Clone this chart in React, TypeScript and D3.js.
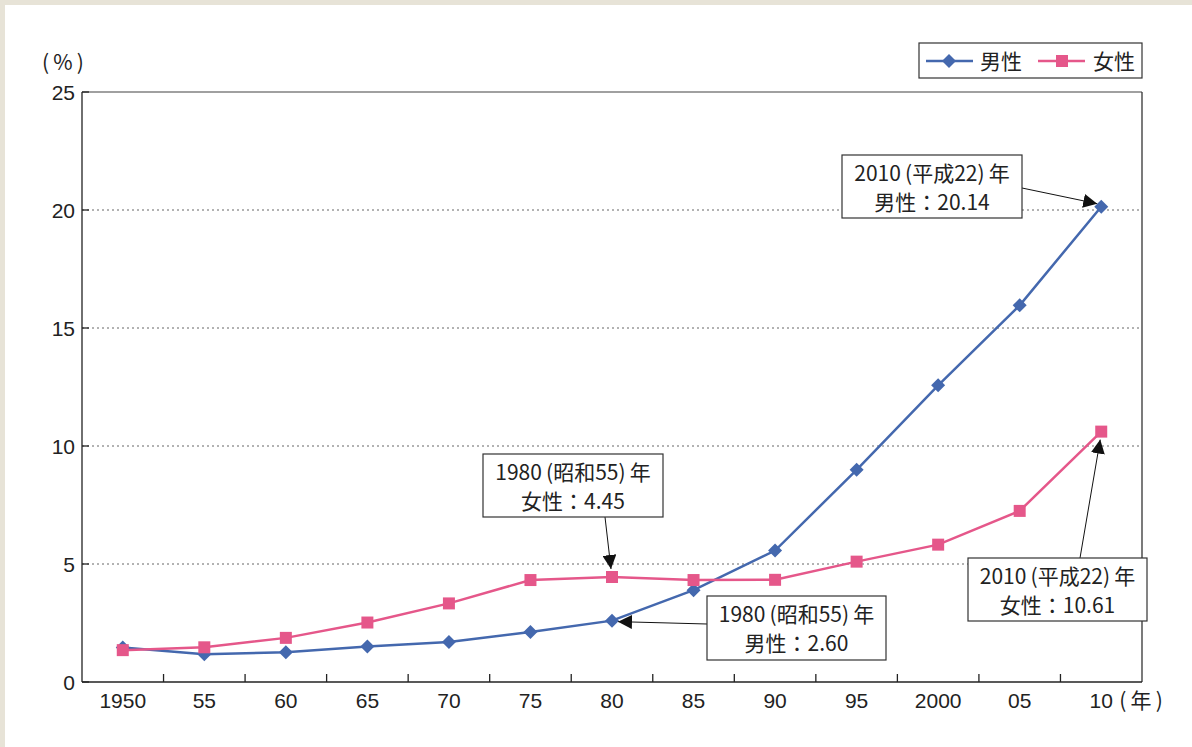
import * as d3 from "d3";

// 生涯未婚率 (%)
const years = ["1950", "55", "60", "65", "70", "75", "80", "85", "90", "95", "2000", "05", "10"];
const male = [1.46, 1.18, 1.26, 1.5, 1.7, 2.12, 2.6, 3.89, 5.57, 8.99, 12.57, 15.96, 20.14];
const female = [1.35, 1.47, 1.87, 2.52, 3.33, 4.32, 4.45, 4.32, 4.33, 5.1, 5.82, 7.25, 10.61];
const yTicks = [0, 5, 10, 15, 20, 25];

const W = 1192;
const H = 747;
const margin = { top: 92, right: 50, bottom: 65, left: 82 };

const BLUE = "#4468ae";
const PINK = "#e5578a";
const FONT = "'Liberation Sans', 'Noto Sans CJK JP', sans-serif";
const JFONT = "'Noto Sans CJK JP', 'Liberation Sans', sans-serif";
const HS = "\u2009";

export default function App() {
  const x = d3
    .scaleBand<string>()
    .domain(years)
    .range([margin.left, W - margin.right]);
  const y = d3
    .scaleLinear()
    .domain([0, 25])
    .range([H - margin.bottom, margin.top]);

  const cx = (i: number) => (x(years[i]) as number) + x.bandwidth() / 2;
  const line = d3
    .line<number>()
    .x((_, i) => cx(i))
    .y((d) => y(d));

  const x0 = margin.left;
  const x1 = W - margin.right;
  const yb = y(0);
  const yt = y(25);

  // rotated square diamond, square marker
  const diamond = "M0,-7L7,0L0,7L-7,0Z";
  const square = "M-6,-6H6V6H-6Z";

  const notes = [
    {
      lines: [`2010${HS}(平成22)${HS}年`, "男性：20.14"],
      bx: 842, by: 155, bw: 180, bh: 63,
      from: [1022, 188], to: [cx(12) - 4, y(male[12]) - 3],
    },
    {
      lines: [`1980${HS}(昭和55)${HS}年`, "女性：4.45"],
      bx: 483, by: 454, bw: 180, bh: 63,
      from: [605, 517], to: [cx(6) - 1, y(female[6]) - 8],
    },
    {
      lines: [`1980${HS}(昭和55)${HS}年`, "男性：2.60"],
      bx: 707, by: 596, bw: 179, bh: 64,
      from: [707, 624], to: [cx(6) + 6, y(male[6]) + 1],
    },
    {
      lines: [`2010${HS}(平成22)${HS}年`, "女性：10.61"],
      bx: 968, by: 558, bw: 179, bh: 63,
      from: [1080, 558], to: [cx(12) - 1, y(female[12]) + 8],
    },
  ];

  return (
    <svg
      width={W}
      height={H}
      style={{ position: "absolute", left: 0, top: 0 }}
      fontFamily={FONT}
    >
      <defs>
        <marker
          id="arr"
          viewBox="0 0 10 10"
          refX="10"
          refY="5"
          markerWidth="14"
          markerHeight="14"
          markerUnits="userSpaceOnUse"
          orient="auto"
        >
          <path d="M0,0 L10,5 L0,10 z" fill="#111" />
        </marker>
      </defs>
      <rect x={0} y={0} width={W} height={H} fill="#e7e3d7" />
      <rect x={5} y={5} width={W - 5} height={H - 5} fill="#ffffff" />

      {/* grid */}
      {yTicks
        .filter((t) => t > 0 && t < 25)
        .map((t) => (
          <line
            key={t}
            x1={x0}
            x2={x1}
            y1={y(t)}
            y2={y(t)}
            stroke="#666"
            strokeWidth={1}
            strokeDasharray="2,3"
          />
        ))}

      {/* frame */}
      <line x1={x0} x2={x1} y1={yt} y2={yt} stroke="#808080" strokeWidth={1.6} />
      <line x1={x1} x2={x1} y1={yt} y2={yb} stroke="#333" strokeWidth={1.3} />
      <line x1={x0} x2={x0} y1={yt} y2={yb} stroke="#222" strokeWidth={1.3} />
      <line x1={x0} x2={x1} y1={yb} y2={yb} stroke="#222" strokeWidth={1.3} />

      {/* y ticks */}
      {yTicks.map((t) => (
        <g key={t}>
          <line x1={x0} x2={x0 + 7} y1={y(t)} y2={y(t)} stroke="#222" strokeWidth={1.3} />
          <text x={75} y={y(t)} dy="0.36em" textAnchor="end" fontSize={21} fill="#222">
            {t}
          </text>
        </g>
      ))}
      <text x={63} y={70} textAnchor="middle" fontSize={21} fill="#222" fontFamily={JFONT}>
        {`(${HS}%${HS})`}
      </text>

      {/* x ticks */}
      {years.slice(1).map((yr) => (
        <line
          key={yr}
          x1={x(yr)}
          x2={x(yr)}
          y1={yb}
          y2={yb - 8}
          stroke="#222"
          strokeWidth={1.3}
        />
      ))}
      {years.map((yr, i) => (
        <text key={yr} x={cx(i)} y={708} textAnchor="middle" fontSize={21} fill="#222">
          {yr}
        </text>
      ))}
      <text x={1141} y={708} textAnchor="middle" fontSize={21} fill="#222" fontFamily={JFONT}>
        {`(${HS}年${HS})`}
      </text>

      {/* series */}
      <path d={line(male)!} fill="none" stroke={BLUE} strokeWidth={2.5} />
      {male.map((v, i) => (
        <path key={i} d={diamond} transform={`translate(${cx(i)},${y(v)})`} fill={BLUE} />
      ))}
      <path d={line(female)!} fill="none" stroke={PINK} strokeWidth={2.5} />
      {female.map((v, i) => (
        <path key={i} d={square} transform={`translate(${cx(i)},${y(v)})`} fill={PINK} />
      ))}

      {/* annotations */}
      {notes.map((n, k) => (
        <g key={k}>
          <line
            x1={n.from[0]}
            y1={n.from[1]}
            x2={n.to[0]}
            y2={n.to[1]}
            stroke="#111"
            strokeWidth={1}
            markerEnd="url(#arr)"
          />
          <rect
            x={n.bx}
            y={n.by}
            width={n.bw}
            height={n.bh}
            fill="#fff"
            stroke="#333"
            strokeWidth={1.2}
          />
          {n.lines.map((s, j) => (
            <text
              key={j}
              x={n.bx + n.bw / 2}
              y={n.by + 26 + j * 29}
              textAnchor="middle"
              fontSize={21}
              fill="#222"
              fontFamily={JFONT}
            >
              {s}
            </text>
          ))}
        </g>
      ))}

      {/* legend */}
      <rect x={919} y={43} width={223} height={35} fill="#fff" stroke="#333" strokeWidth={1.2} />
      <line x1={926} x2={973} y1={61} y2={61} stroke={BLUE} strokeWidth={2.5} />
      <path d={diamond} transform="translate(949,61)" fill={BLUE} />
      <text x={980} y={61} dy="0.36em" fontSize={21} fill="#222" fontFamily={JFONT}>
        男性
      </text>
      <line x1={1038} x2={1085} y1={61} y2={61} stroke={PINK} strokeWidth={2.5} />
      <path d={square} transform="translate(1062,61)" fill={PINK} />
      <text x={1093} y={61} dy="0.36em" fontSize={21} fill="#222" fontFamily={JFONT}>
        女性
      </text>
    </svg>
  );
}
